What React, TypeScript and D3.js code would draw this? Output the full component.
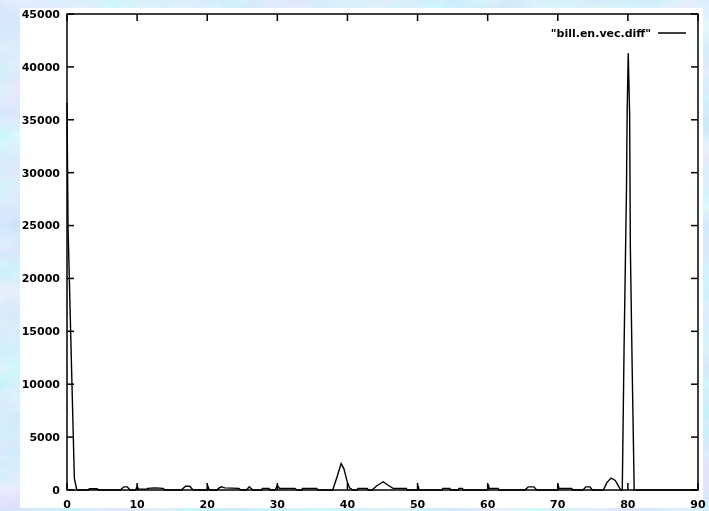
import React from 'react';
import * as d3 from 'd3';

// series "bill.en.vec.diff" (x position, value)
const xs = [
  0, 0.15, 0.6, 1.05, 1.4,
  3.0, 3.2, 4.3, 4.5,
  7.6, 8.1, 8.6, 9.0,
  9.8, 10.0, 10.2, 11.4, 11.5, 12.5, 13.7, 14.0,
  16.3, 16.9, 17.5, 18.0,
  20.0, 20.1, 20.3,
  21.4, 21.6, 22.0, 22.5, 24.5, 24.8,
  25.6, 26.0, 26.5,
  27.7, 27.9, 28.8, 29.0,
  29.7, 30.0, 30.3, 32.5, 32.8,
  33.5, 33.6, 35.6, 35.8,
  37.9, 38.5, 39.1, 39.5, 40.0, 40.3, 40.8,
  41.4, 41.5, 42.8, 43.0,
  43.5, 44.2, 45.1, 45.7, 46.5, 48.4, 48.5,
  50.0, 50.1, 50.2,
  53.5, 53.6, 54.6, 54.7,
  55.8, 55.9, 56.4, 56.5,
  60.0, 60.1, 60.2, 61.5, 61.6,
  65.3, 65.8, 66.6, 67.0,
  70.0, 70.05, 70.15, 72.0, 72.1,
  73.6, 74.0, 74.6, 74.9,
  76.5, 77.0, 77.6, 78.2, 78.8, 79.0,
  79.2, 79.45, 79.8, 79.9, 80.05, 80.25, 80.35, 80.6, 80.9,
  90,
];
const ys = [
  36600, 24800, 12800, 1100, 0,
  0, 120, 120, 0,
  0, 300, 300, 0,
  0, 350, 80, 80, 150, 200, 150, 0,
  0, 350, 350, 0,
  0, 350, 0,
  0, 150, 300, 200, 150, 0,
  0, 300, 0,
  0, 150, 150, 0,
  0, 450, 150, 150, 0,
  0, 150, 150, 0,
  0, 1200, 2500, 2000, 700, 200, 0,
  0, 150, 150, 0,
  0, 400, 780, 500, 150, 150, 0,
  0, 400, 0,
  0, 150, 150, 0,
  0, 150, 150, 0,
  0, 500, 150, 150, 0,
  0, 300, 300, 0,
  0, 550, 150, 150, 0,
  0, 300, 300, 0,
  0, 700, 1130, 900, 200, 0,
  0, 13200, 28500, 35900, 41300, 35500, 23000, 12000, 0,
  0,
];

const xTicks = [0, 10, 20, 30, 40, 50, 60, 70, 80, 90];
const yTicks = [0, 5000, 10000, 15000, 20000, 25000, 30000, 35000, 40000, 45000];
const seriesName = '"bill.en.vec.diff"';

const W = 709;
const H = 511;
const left = 67, right = 698, top = 14, bottom = 490;
const tickLen = 7;
const font = 'DejaVu Sans, sans-serif';

export default function App() {
  const x = d3.scaleLinear().domain([0, 90]).range([left, right]);
  const y = d3.scaleLinear().domain([0, 45000]).range([bottom, top]);

  const pts: [number, number][] = xs.map((v, i) => [v, ys[i]]);
  const line = d3.line<[number, number]>()
    .x(d => x(d[0]))
    .y(d => y(d[1]));

  return (
    <div style={{ position: 'fixed', left: 0, top: 0 }}>
      <svg width={W} height={H} style={{ display: 'block' }}>
        <defs>
          <filter id="marble" x="0" y="0" width="100%" height="100%">
            <feTurbulence type="fractalNoise" baseFrequency="0.012 0.025" numOctaves={4} seed={7} />
            <feColorMatrix type="matrix"
              values="0.45 0 0 0 0.46  0 0.3 0 0 0.7  0 0 0.08 0 0.92  0 0 0 0 1" />
          </filter>
        </defs>
        <rect x={0} y={0} width={W} height={H} filter="url(#marble)" />
        <rect x={20} y={8} width={683} height={500} fill="#fff" />

        {/* frame */}
        <rect x={left} y={top} width={right - left} height={bottom - top}
          fill="none" stroke="#000" strokeWidth={1.5} />

        {/* y ticks, mirrored on the right */}
        {yTicks.map(t => (
          <g key={'y' + t}>
            <line x1={left} x2={left + tickLen} y1={y(t)} y2={y(t)} stroke="#000" strokeWidth={1.5} />
            <line x1={right} x2={right - tickLen} y1={y(t)} y2={y(t)} stroke="#000" strokeWidth={1.5} />
            <text x={60} y={y(t)} dy="0.35em" textAnchor="end"
              fontFamily={font} fontWeight="bold" fontSize={11}>{t}</text>
          </g>
        ))}

        {/* x ticks, mirrored on top */}
        {xTicks.map(t => (
          <g key={'x' + t}>
            <line x1={x(t)} x2={x(t)} y1={bottom} y2={bottom - tickLen} stroke="#000" strokeWidth={1.5} />
            <line x1={x(t)} x2={x(t)} y1={top} y2={top + tickLen} stroke="#000" strokeWidth={1.5} />
            <text x={x(t)} y={508} textAnchor="middle"
              fontFamily={font} fontWeight="bold" fontSize={11}>{t}</text>
          </g>
        ))}

        <path d={line(pts) ?? ''} fill="none" stroke="#000" strokeWidth={1.4} />

        {/* legend */}
        <text x={651} y={33} dy="0.35em" textAnchor="end"
          fontFamily={font} fontWeight="bold" fontSize={11}>{seriesName}</text>
        <line x1={658} x2={686} y1={33} y2={33} stroke="#000" strokeWidth={1.5} />
      </svg>
    </div>
  );
}
